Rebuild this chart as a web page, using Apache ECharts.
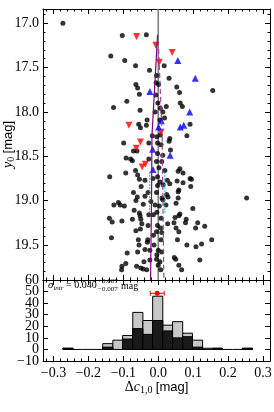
<!DOCTYPE html>
<html><head><meta charset="utf-8">
<script src="https://cdn.jsdelivr.net/npm/echarts@6/dist/echarts.min.js"></script>
<style>html,body{margin:0;padding:0;background:#fff}#c{width:274px;height:412px}</style>
</head><body><div id="c"></div>
<script>
// ---------- data ----------
const blackDots = [[-0.273,17.00],[-0.103,17.14],[-0.034,17.13],[-0.136,17.37],[-0.096,17.42],[-0.065,17.48],[-0.025,17.53],[0.017,17.48],[-0.005,17.59],[-0.064,17.69],[-0.059,17.73],[-0.006,17.67],[0.001,17.69],[-0.054,17.80],[0.031,17.62],[0.053,17.72],[0.061,17.78],[0.156,17.76],[-0.090,17.88],[-0.128,17.95],[-0.001,17.90],[0.006,17.96],[0.023,17.94],[0.063,17.90],[0.069,17.94],[0.013,18.00],[0.018,18.07],[-0.056,18.14],[-0.051,18.18],[-0.034,18.15],[0.091,18.14],[-0.017,18.27],[-0.004,18.28],[0.006,18.26],[0.033,18.30],[0.031,18.33],[0.082,18.27],[-0.099,18.35],[-0.027,18.35],[-0.002,18.35],[-0.071,18.44],[-0.061,18.44],[0.035,18.43],[-0.002,18.47],[0.013,18.49],[-0.092,18.52],[-0.079,18.53],[-0.074,18.55],[-0.027,18.53],[-0.005,18.56],[0.010,18.56],[-0.093,18.69],[-0.065,18.66],[-0.059,18.71],[-0.054,18.76],[-0.139,18.73],[-0.002,18.73],[0.019,18.66],[-0.002,18.83],[0.014,18.82],[0.062,18.64],[0.057,18.67],[0.071,18.69],[0.026,18.77],[0.033,18.81],[0.054,18.78],[0.071,18.80],[0.091,18.75],[0.095,18.76],[0.093,18.84],[0.059,18.88],[-0.071,18.91],[-0.060,18.96],[-0.038,18.95],[-0.127,19.05],[-0.114,19.02],[-0.109,19.05],[-0.097,19.06],[-0.043,19.04],[-0.069,19.11],[-0.140,19.20],[-0.132,19.24],[-0.104,19.23],[-0.074,19.21],[-0.054,19.14],[-0.052,19.17],[-0.050,19.21],[-0.047,19.26],[-0.051,19.32],[-0.064,19.34],[-0.134,19.42],[-0.057,19.44],[-0.030,19.44],[-0.038,19.55],[-0.059,19.58],[-0.089,19.59],[-0.093,19.71],[-0.104,19.74],[-0.105,19.78],[-0.062,19.74],[-0.050,19.76],[-0.043,19.77],[-0.033,19.78],[-0.031,19.47],[-0.027,19.16],[-0.014,19.16],[-0.002,19.28],[-0.005,19.35],[0.007,19.31],[0.010,19.36],[-0.014,19.39],[0.000,19.56],[0.010,19.58],[-0.005,19.66],[0.005,19.69],[0.000,19.73],[0.007,19.78],[-0.024,19.67],[-0.029,18.91],[-0.005,18.91],[0.013,18.99],[0.003,19.06],[0.024,18.93],[0.028,18.96],[0.057,18.90],[0.057,18.97],[0.051,19.03],[0.022,19.05],[0.099,19.09],[0.062,19.15],[0.059,19.17],[0.048,19.19],[0.045,19.25],[0.027,19.26],[0.080,19.21],[0.078,19.25],[0.113,19.25],[0.107,19.31],[0.133,19.29],[0.051,19.31],[0.059,19.35],[0.153,19.44],[0.055,19.44],[0.082,19.50],[0.108,19.52],[0.124,19.49],[0.046,19.64],[0.050,19.66],[0.119,19.67],[0.059,19.73],[0.067,19.78],[0.253,18.97],
  [0.005,18.79],[0.011,18.97],[-0.004,19.13],[0.008,19.44],[-0.004,19.61],[0.008,19.20],[-0.012,19.50],[-0.009,19.05],[0.002,18.63],[-0.015,18.75],[0.005,18.09],[-0.009,18.00],[-0.007,17.81],[0.008,18.37],
  [-0.029,19.28],[-0.038,18.77],[-0.024,19.56],[-0.032,18.09],[-0.021,19.01],[-0.041,19.69],
  [-0.049,18.84],[-0.055,19.50],[-0.064,19.00],[-0.052,17.98]];
const redDown = [[-0.062,17.15],[-0.007,17.25],[0.003,17.44],[0.040,17.33],[-0.084,18.15],[0.008,18.23],[-0.051,18.34],[-0.063,18.41],[-0.046,18.62],[-0.037,18.59]];
const blueUp = [[-0.024,17.77],[0.056,17.42],[0.106,17.62],[0.090,18.00],[0.063,18.17],[0.073,18.15],[0.009,18.10],[0.001,18.17],[-0.016,18.42],[-0.015,18.65],[0.034,18.49]];
const meanLine = [[-0.002,17.13],[-0.018,18.27],[-0.019,18.88],[-0.022,19.895]];
const dashedLine = [[0.001,17.29],[0.011,18.24],[0.013,18.88],[0.016,19.895]];
const cyanLeft = [[-0.025,18.68],[-0.025,19.15]];
const cyanRight = [[0.019,18.68],[0.019,19.15]];
const zeroLine = [[0,16.84],[0,19.895]];
const binEdges = [-0.273,-0.244,-0.216,-0.187,-0.159,-0.130,-0.102,-0.073,-0.044,-0.016,0.013,0.041,0.070,0.098,0.127,0.156,0.184,0.213,0.241,0.270];
const histAll = [1,0,0,0,5,8,12,32,25,46,21,24,14,8,1,1,0,0,1];
const histSub = [1,0,0,0,2,0,9,18,13,25,16,10,11,2,0,1,0,0,1];
const meanPoint = [[-0.003,48.5,-0.023,0.017]];
const xMajor = [-0.3,-0.2,-0.1,0,0.1,0.2,0.3];
const xMinor = [-0.32,-0.30,-0.28,-0.26,-0.24,-0.22,-0.20,-0.18,-0.16,-0.14,-0.12,-0.10,-0.08,-0.06,-0.04,-0.02,0,0.02,0.04,0.06,0.08,0.10,0.12,0.14,0.16,0.18,0.20,0.22,0.24,0.26,0.28,0.30,0.32];
const yMajor = [17.0,17.5,18.0,18.5,19.0,19.5];
const yMinor = [16.9,17.0,17.1,17.2,17.3,17.4,17.5,17.6,17.7,17.8,17.9,18.0,18.1,18.2,18.3,18.4,18.5,18.6,18.7,18.8,18.9,19.0,19.1,19.2,19.3,19.4,19.5,19.6,19.7,19.8];
const histYTicks = [-10,0,10,20,30,40,50,60];
const histYLabelsOdd = [-10,10,30,50];
const histYLabelsEven = [0,20,40,60];
const sigmaValue = '0.040', sigmaPlus = '+0.007', sigmaMinus = '\u22120.007';

// ---------- chart ----------
const SERIF = '"Liberation Serif", "DejaVu Serif", serif';
const SANS = '"Liberation Sans", Arial, sans-serif';
const X = [-0.33, 0.32], Y = [16.84, 19.895], H = [-10, 60];
const fmtMinus = s => s.replace('-', '\u2212');

function xAxis(grid, pos, ticks, len, line, labels) {
  return {
    type: 'value', gridIndex: grid, position: pos, min: X[0], max: X[1],
    axisLine: {show: line, onZero: false, lineStyle: {color: '#000', width: 1}},
    axisTick: {show: true, inside: true, length: len, customValues: ticks, lineStyle: {color: '#000', width: 1}},
    axisLabel: labels ? {show: true, customValues: xMajor, margin: 5, color: '#000', fontFamily: SERIF, fontSize: 14,
      hideOverlap: false, formatter: v => fmtMinus(v.toFixed(1))} : {show: false},
    splitLine: {show: false}
  };
}
function yMainAxis(pos, ticks, len, line, labels) {
  return {
    type: 'value', gridIndex: 0, position: pos, min: Y[0], max: Y[1], inverse: true,
    axisLine: {show: line, onZero: false, lineStyle: {color: '#000', width: 1}},
    axisTick: {show: true, inside: true, length: len, customValues: ticks, lineStyle: {color: '#000', width: 1}},
    axisLabel: labels ? {show: true, customValues: yMajor, margin: 4, color: '#000', fontFamily: SERIF, fontSize: 14,
      hideOverlap: false, formatter: v => v.toFixed(1)} : {show: false},
    splitLine: {show: false}
  };
}
function yHistAxis(pos, line, labels) {
  return {
    type: 'value', gridIndex: 1, position: pos, min: H[0], max: H[1],
    axisLine: {show: line, onZero: false, lineStyle: {color: '#000', width: 1}},
    axisTick: {show: line, inside: true, length: 5, customValues: histYTicks, lineStyle: {color: '#000', width: 1}},
    axisLabel: labels ? {show: true, customValues: labels, hideOverlap: false,
      margin: 4, color: '#000', fontFamily: SERIF, fontSize: 14,
      formatter: v => fmtMinus(String(v))} : {show: false},
    splitLine: {show: false}
  };
}

const xAxes = [
  xAxis(0, 'bottom', xMajor, 5, true, false),
  xAxis(0, 'top', xMajor, 5, true, false),
  xAxis(0, 'bottom', xMinor, 2.5, false, false),
  xAxis(0, 'top', xMinor, 2.5, false, false),
  xAxis(1, 'bottom', xMajor, 5, true, true),
  xAxis(1, 'top', xMajor, 5, true, false),
  xAxis(1, 'bottom', xMinor, 2.5, false, false),
  xAxis(1, 'top', xMinor, 2.5, false, false)
];
xAxes[4].name = '{n|\u0394}{i|c}{s|1,0} {m|[mag]}';
xAxes[4].nameLocation = 'middle';
xAxes[4].nameGap = 18;
xAxes[4].nameMoveOverlap = false;
xAxes[4].nameTextStyle = {color: '#000', rich: {
  n: {fontFamily: SERIF, fontSize: 14, color: '#000'},
  i: {fontFamily: SERIF, fontStyle: 'italic', fontSize: 14, color: '#000'},
  s: {fontFamily: SERIF, fontSize: 10, color: '#000', verticalAlign: 'bottom', padding: [6, 0, 0, 0]},
  m: {fontFamily: SANS, fontSize: 13, color: '#000'}
}};

const yAxes = [
  yMainAxis('left', yMajor, 5, true, true),
  yMainAxis('right', yMajor, 5, true, false),
  yMainAxis('left', yMinor, 2.5, false, false),
  yMainAxis('right', yMinor, 2.5, false, false),
  yHistAxis('left', true, histYLabelsOdd),
  yHistAxis('right', true, null),
  yHistAxis('left', false, histYLabelsEven)
];
yAxes[0].name = '{i|y}{s|0} {m|[mag]}';
yAxes[0].nameLocation = 'middle';
yAxes[0].nameGap = 27;
yAxes[0].nameMoveOverlap = false;
yAxes[0].nameTextStyle = {color: '#000', rich: {
  i: {fontFamily: SERIF, fontStyle: 'italic', fontSize: 14, color: '#000'},
  s: {fontFamily: SERIF, fontSize: 10, color: '#000', verticalAlign: 'bottom', padding: [6, 0, 0, 0]},
  m: {fontFamily: SANS, fontSize: 13, color: '#000'}
}};

const histData = (arr) => arr.map((c, i) => [binEdges[i], binEdges[i + 1], c]);

function histRender(fill, drawZero) {
  return function (params, api) {
    const x0 = api.value(0), x1 = api.value(1), c = api.value(2);
    const a = api.coord([x0, c]), b = api.coord([x1, 0]);
    if (c === 0) {
      if (!drawZero) return null;
      return {type: 'line', shape: {x1: a[0], y1: b[1], x2: b[0], y2: b[1]}, style: {stroke: '#000', lineWidth: 1}};
    }
    return {type: 'rect', shape: {x: a[0], y: a[1], width: b[0] - a[0], height: b[1] - a[1]},
      style: {fill: fill, stroke: '#000', lineWidth: 1}};
  };
}

const option = {
  animation: false,
  backgroundColor: '#fff',
  grid: [
    {left: 43, top: 9, width: 227, height: 271, containLabel: false, outerBoundsMode: 'none'},
    {left: 43, top: 280, width: 227, height: 81, containLabel: false, outerBoundsMode: 'none'}
  ],
  xAxis: xAxes,
  yAxis: yAxes,
  graphic: [
    {type: 'text', left: 48, top: 280, z: 100, style: {
      text: '{g|\u03c3}{s|intr} = ' + sigmaValue, font: '10px ' + SERIF, fill: '#000',
      rich: {g: {fontFamily: SERIF, fontStyle: 'italic', fontSize: 11}, s: {fontFamily: SERIF, fontStyle: 'italic', fontSize: 7, verticalAlign: 'bottom', padding: [5, 0, 0, 0]}}}},
    {type: 'text', left: 98, top: 278, z: 100, style: {text: sigmaPlus, font: '7px ' + SERIF, fill: '#000'}},
    {type: 'text', left: 98, top: 286, z: 100, style: {text: sigmaMinus, font: '7px ' + SERIF, fill: '#000'}},
    {type: 'text', left: 121, top: 281, z: 100, style: {text: 'mag', font: '10px ' + SERIF, fill: '#000'}}
  ],
  series: [
    {type: 'line', xAxisIndex: 0, yAxisIndex: 0, data: zeroLine, showSymbol: false, symbol: 'none',
      lineStyle: {color: '#808080', width: 1.6}, z: 1, silent: true},
    {type: 'scatter', xAxisIndex: 0, yAxisIndex: 0, data: blackDots, symbol: 'circle', symbolSize: 5,
      itemStyle: {color: '#000'}, z: 2, silent: true},
    {type: 'scatter', xAxisIndex: 0, yAxisIndex: 0, data: redDown, symbol: 'triangle', symbolRotate: 180, symbolSize: 7,
      itemStyle: {color: '#ff0000'}, z: 3, silent: true},
    {type: 'scatter', xAxisIndex: 0, yAxisIndex: 0, data: blueUp, symbol: 'triangle', symbolSize: 7,
      itemStyle: {color: '#0000ff'}, z: 3, silent: true},
    {type: 'line', xAxisIndex: 0, yAxisIndex: 0, data: meanLine, symbol: 'none',
      lineStyle: {color: '#800080', width: 1.2}, z: 4, silent: true},
    {type: 'line', xAxisIndex: 0, yAxisIndex: 0, data: dashedLine, symbol: 'none',
      lineStyle: {color: '#a040a0', width: 1.2, type: [5, 3]}, z: 4, silent: true},
    {type: 'line', xAxisIndex: 0, yAxisIndex: 0, data: cyanLeft, symbol: 'none',
      lineStyle: {color: '#00bfbf', width: 1.2, type: [1.5, 1.5]}, z: 4, silent: true},
    {type: 'line', xAxisIndex: 0, yAxisIndex: 0, data: cyanRight, symbol: 'none',
      lineStyle: {color: '#00bfbf', width: 1.2, type: [1.5, 1.5]}, z: 4, silent: true},
    {type: 'custom', xAxisIndex: 4, yAxisIndex: 4, data: histData(histAll), encode: {x: [0, 1], y: 2},
      renderItem: histRender('#c8c8c8', true), z: 2, silent: true, clip: true},
    {type: 'custom', xAxisIndex: 4, yAxisIndex: 4, data: histData(histSub), encode: {x: [0, 1], y: 2},
      renderItem: histRender('#1a1a1a', false), z: 3, silent: true, clip: true},
    {type: 'custom', xAxisIndex: 4, yAxisIndex: 4, data: meanPoint, encode: {x: [0, 2, 3], y: 1}, z: 5, silent: true,
      renderItem: function (params, api) {
        const c = api.coord([api.value(0), api.value(1)]);
        const l = api.coord([api.value(2), api.value(1)]);
        const r = api.coord([api.value(3), api.value(1)]);
        const st = {stroke: '#ff0000', lineWidth: 1};
        return {type: 'group', children: [
          {type: 'line', shape: {x1: l[0], y1: l[1], x2: r[0], y2: r[1]}, style: st},
          {type: 'line', shape: {x1: l[0], y1: l[1] - 2.5, x2: l[0], y2: l[1] + 2.5}, style: st},
          {type: 'line', shape: {x1: r[0], y1: r[1] - 2.5, x2: r[0], y2: r[1] + 2.5}, style: st},
          {type: 'circle', shape: {cx: c[0], cy: c[1], r: 2.5}, style: {fill: '#ff0000'}}
        ]};
      }}
  ]
};
const chart = echarts.init(document.getElementById('c'), null, {renderer: 'canvas'});
chart.setOption(option);
</script></body></html>
